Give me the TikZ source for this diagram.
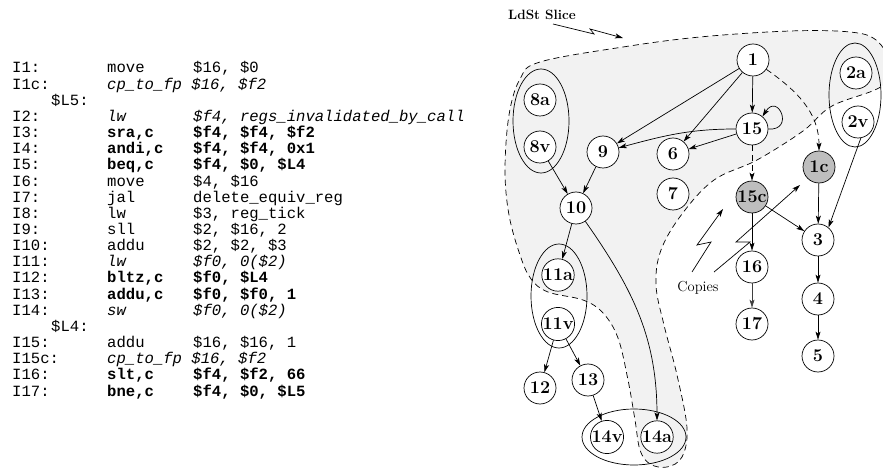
\documentclass[tikz,border=0pt]{standalone}
\usepackage{fontspec}
\newfontfamily\codefont{Liberation Mono}
\usetikzlibrary{arrows.meta}
\definecolor{slicegray}{RGB}{242,242,242}
\definecolor{nodegray}{RGB}{190,190,190}
\begin{document}
\begin{tikzpicture}[x=1pt,y=1pt,
  nd/.style={circle, draw, fill=white, minimum size=32pt, inner sep=0pt, line width=0.7pt,
    font=\fontsize{18}{18}\selectfont\bfseries},
  gnd/.style={nd, fill=nodegray},
  arr/.style={-{Stealth[length=8pt,width=5pt,inset=2pt]}, line width=0.7pt},
  dsh/.style={dash pattern=on 6pt off 4pt},
  code/.style={anchor=base west, inner sep=0pt, font=\codefont\fontsize{15.6}{16}\selectfont},
  ell/.style={line width=0.7pt}]
\useasboundingbox (0,0) rectangle (883,-470);

% slice region
\path[fill=slicegray, draw, dsh, line width=0.7pt] plot[smooth cycle, tension=0.6] coordinates {
 (540,-62) (623,-47) (700,-37) (790,-31) (850,-32) (876,-40) (889,-62) (882,-86)
 (832,-106) (803,-131) (757,-160) (714,-180) (682,-214) (661,-250) (656,-285)
 (664,-325) (677,-375) (687,-428) (682,-457) (667,-467) (650,-464) (640,-450)
 (635,-420) (628,-380) (618,-338) (603,-313) (583,-300) (548,-292) (531,-279)
 (520,-255) (509,-215) (505,-170) (509,-115) (520,-79)};

% code listing
\node[code] (l1) at (12,-73) {I1:};
\node[code] (o1) at (107,-73) {move};
\node[code] (a1) at (193,-73) {\$16, \$0};
\node[code] (l1c) at (12,-89.2) {I1c:};
\node[code] (o1c) at (107,-89.2) {\itshape cp\_to\_fp \$16, \$f2};
\node[code] (l5) at (51,-105.3) {\$L5:};
\node[code] (l2) at (12,-121.5) {I2:};
\node[code] (o2) at (107,-121.5) {\itshape lw};
\node[code] (a2) at (193,-121.5) {\itshape \$f4, regs\_invalidated\_by\_call};
\node[code] (l3) at (12,-137.6) {I3:};
\node[code] (o3) at (107,-137.6) {\bfseries sra,c};
\node[code] (a3) at (193,-137.6) {\bfseries \$f4, \$f4, \$f2};
\node[code] (l4) at (12,-153.8) {I4:};
\node[code] (o4) at (107,-153.8) {\bfseries andi,c};
\node[code] (a4) at (193,-153.8) {\bfseries \$f4, \$f4, 0x1};
\node[code] (l5i) at (12,-169.9) {I5:};
\node[code] (o5) at (107,-169.9) {\bfseries beq,c};
\node[code] (a5) at (193,-169.9) {\bfseries \$f4, \$0, \$L4};
\node[code] (l6) at (12,-186.1) {I6:};
\node[code] (o6) at (107,-186.1) {move};
\node[code] (a6) at (193,-186.1) {\$4, \$16};
\node[code] (l7) at (12,-202.2) {I7:};
\node[code] (o7) at (107,-202.2) {jal};
\node[code] (a7) at (193,-202.2) {delete\_equiv\_reg};
\node[code] (l8) at (12,-218.4) {I8:};
\node[code] (o8) at (107,-218.4) {lw};
\node[code] (a8) at (193,-218.4) {\$3, reg\_tick};
\node[code] (l9) at (12,-234.5) {I9:};
\node[code] (o9) at (107,-234.5) {sll};
\node[code] (a9) at (193,-234.5) {\$2, \$16, 2};
\node[code] (l10) at (12,-250.7) {I10:};
\node[code] (o10) at (107,-250.7) {addu};
\node[code] (a10) at (193,-250.7) {\$2, \$2, \$3};
\node[code] (l11) at (12,-266.8) {I11:};
\node[code] (o11) at (107,-266.8) {\itshape lw};
\node[code] (a11) at (193,-266.8) {\itshape \$f0, 0(\$2)};
\node[code] (l12) at (12,-283) {I12:};
\node[code] (o12) at (107,-283) {\bfseries bltz,c};
\node[code] (a12) at (193,-283) {\bfseries \$f0, \$L4};
\node[code] (l13) at (12,-299.1) {I13:};
\node[code] (o13) at (107,-299.1) {\bfseries addu,c};
\node[code] (a13) at (193,-299.1) {\bfseries \$f0, \$f0, 1};
\node[code] (l14) at (12,-315.3) {I14:};
\node[code] (o14) at (107,-315.3) {\itshape sw};
\node[code] (a14) at (193,-315.3) {\itshape \$f0, 0(\$2)};
\node[code] (l4l) at (51,-331.4) {\$L4:};
\node[code] (l15) at (12,-347.6) {I15:};
\node[code] (o15) at (107,-347.6) {addu};
\node[code] (a15) at (193,-347.6) {\$16, \$16, 1};
\node[code] (l15c) at (12,-363.7) {I15c:};
\node[code] (o15c) at (107,-363.7) {\itshape cp\_to\_fp \$16, \$f2};
\node[code] (l16) at (12,-379.9) {I16:};
\node[code] (o16) at (107,-379.9) {\bfseries slt,c};
\node[code] (a16) at (193,-379.9) {\bfseries \$f4, \$f2, 66};
\node[code] (l17) at (12,-396) {I17:};
\node[code] (o17) at (107,-396) {\bfseries bne,c};
\node[code] (a17) at (193,-396) {\bfseries \$f4, \$0, \$L5};

% groups
\draw[ell] (541,-121) ellipse [x radius=28, y radius=52];
\draw[ell] (855,-95) ellipse [x radius=26, y radius=52];
\draw[ell] (559,-296) ellipse [x radius=28, y radius=52];
\draw[ell] (634,-437) ellipse [x radius=52, y radius=28];

% nodes
\node[nd] (n1) at (753,-60) {1};
\node[nd] (n2a) at (856,-73) {2a};
\node[nd] (n2v) at (858,-122) {2v};
\node[nd] (n8a) at (540,-100) {8a};
\node[nd] (n8v) at (540,-147) {8v};
\node[nd] (n9) at (603,-152) {9};
\node[nd] (n15) at (752,-129) {15};
\node[nd] (n6) at (673,-154) {6};
\node[nd] (n7) at (673,-194) {7};
\node[gnd] (n1c) at (819,-167) {1c};
\node[gnd] (n15c) at (752,-197) {15c};
\node[nd] (n10) at (576,-208) {10};
\node[nd] (n3) at (818,-240) {3};
\node[nd] (n16) at (752,-267) {16};
\node[nd] (n11a) at (558,-275) {11a};
\node[nd] (n4) at (818,-299) {4};
\node[nd] (n17) at (752,-324) {17};
\node[nd] (n11v) at (558,-324) {11v};
\node[nd] (n5) at (818,-356) {5};
\node[nd] (n13) at (588,-380) {13};
\node[nd] (n12) at (540,-388) {12};
\node[nd] (n14v) at (607,-437) {14v};
\node[nd] (n14a) at (657,-437) {14a};

% edges
\draw[arr] (n1) -- (n9);
\draw[arr] (n1) -- (n6);
\draw[arr] (n1) -- (n15);
\draw[arr,dsh] (n1) to[out=-35,in=90] (n1c);
\draw[arr] (n15.east) .. controls (795,-131) and (778,-92) .. (n15.50);
\draw[arr] (n15) to[out=180,in=15] (n9);
\draw[arr] (n15) -- (n6);
\draw[arr,dsh] (n15) -- (n15c);
\draw[arr] (n8v) -- (n10);
\draw[arr] (n9) -- (n10);
\draw[arr] (n10) -- (n11a);
\draw[arr] (n10) to[out=-55,in=90] (n14a);
\draw[arr] (n11v) -- (n12);
\draw[arr] (n11v) -- (n13);
\draw[arr] (n13) -- (n14v);
\draw[arr] (n15c) -- (n3);
\draw[arr] (n15c) -- (n16);
\draw[arr] (n1c) -- (n3);
\draw[arr] (n2v.-80) -- (n3.50);
\draw[arr] (n3) -- (n4);
\draw[arr] (n4) -- (n5);
\draw[arr, draw=black!75] (n16) -- (n17);

% labels
\node[font=\fontsize{13.5}{13.5}\selectfont\bfseries] (ldst) at (542,-15) {LdSt Slice};
\node[font=\fontsize{14.5}{14.5}\selectfont] (copies) at (698,-288) {Copies};

% lightning arrows
\draw[arr] (553,-24) -- (594,-34) -- (590,-29) -- (623,-38);
\draw[arr] (692,-272) -- (711,-242) -- (697,-245) -- (723,-209);
\draw[arr] (714,-272) -- (750,-242) -- (736,-242) -- (800,-185);
\end{tikzpicture}
\end{document}
